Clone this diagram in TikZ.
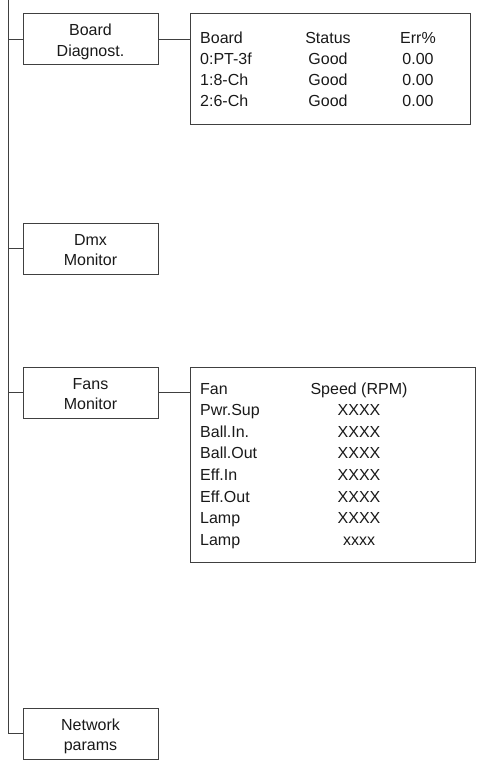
\documentclass[tikz,border=0pt]{standalone}
\usepackage{fontspec}
\setmainfont{Liberation Sans}
\usepackage{tikz}
\newcommand{\menutext}[2]{\raisebox{-7pt}[0pt][0pt]{\begin{tabular}{@{}c@{}}#1\\ #2\end{tabular}}}
\tikzset{
  menubox/.style={rectangle, draw=black!75, line width=0.8pt,
    minimum width=135pt, minimum height=51pt, inner sep=0pt},
  tablebox/.style={rectangle, draw=black!75, line width=0.8pt, inner sep=0pt},
  cell/.style={inner sep=0pt},
  link/.style={draw=black!75, line width=0.8pt},
}

\begin{document}
\begin{tikzpicture}[x=1pt, y=-1pt, font=\fontsize{16}{20.6}\selectfont, text=black!90]
  \useasboundingbox (0,0) rectangle (477,765);
  % menu column
  \coordinate (top) at (8,0);
  \node[menubox] (board) at (90.5,39) {\menutext{Board}{Diagnost.}};
  \node[menubox] (dmx) at (90.5,248.5) {\menutext{Dmx}{Monitor}};
  \node[menubox] (fans) at (90.5,392.5) {\menutext{Fans}{Monitor}};
  \node[menubox] (net) at (90.5,733.5) {\menutext{Network}{params}};
  \draw[link] (top) |- (net.west);
  \foreach \m in {board,dmx,fans}
    \draw[link] (\m.west -| top) -- (\m.west);
  % board table
  \node[tablebox, minimum width=280pt, minimum height=111pt] (btab) at (330,68.5) {};
  \draw[link] (board.east) -- (board.east -| btab.west);
  \foreach \nm/\st/\er [count=\i] in {Board/Status/Err\%, 0:PT-3f/Good/0.00,
      1:8-Ch/Good/0.00, 2:6-Ch/Good/0.00} {
    \node[cell, anchor=base west] (bn\i) at (200,{43.5+21*(\i-1)}) {\nm};
    \node[cell, anchor=base] (bs\i) at (328,{43.5+21*(\i-1)}) {\st};
    \node[cell, anchor=base] (be\i) at (418,{43.5+21*(\i-1)}) {\er};
  }
  % fans table
  \node[tablebox, minimum width=285pt, minimum height=195pt] (ftab) at (332.5,464.5) {};
  \draw[link] (fans.east) -- (fans.east -| ftab.west);
  \foreach \nm/\sp [count=\i] in {Fan/Speed (RPM), Pwr.Sup/XXXX, Ball.In./XXXX,
      Ball.Out/XXXX, Eff.In/XXXX, Eff.Out/XXXX, Lamp/XXXX, Lamp/xxxx} {
    \node[cell, anchor=base west] (fn\i) at (200,{394+21.6*(\i-1)}) {\nm};
    \node[cell, anchor=base] (fs\i) at (359,{394+21.6*(\i-1)}) {\sp};
  }
\end{tikzpicture}
\end{document}
